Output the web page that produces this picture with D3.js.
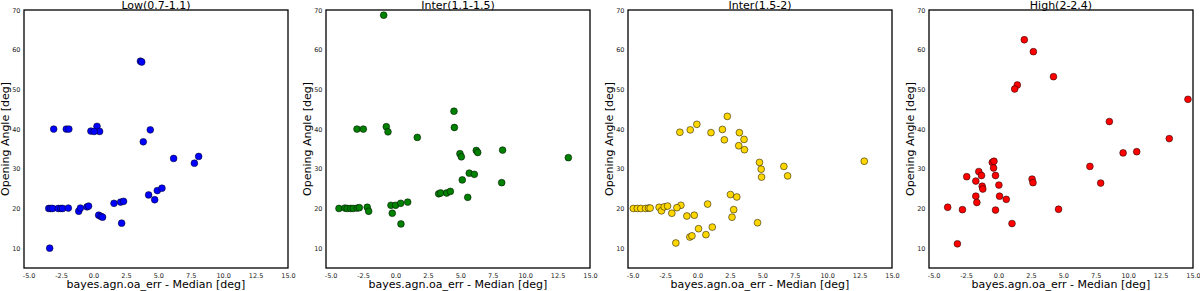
<!DOCTYPE html>
<html><head><meta charset="utf-8">
<script src="https://cdn.jsdelivr.net/npm/d3@7"></script>
<style>body{margin:0;background:#fff}svg{display:block}</style>
</head><body><svg id="c" width="1200" height="291"></svg>
<script>
const titles = ["Low(0.7-1.1)", "Inter(1.1-1.5)", "Inter(1.5-2)", "High(2-2.4)"];
const colors = ["#0000ff", "#008000", "#ffd700", "#ff0000"];
const xTicks = [-5, -2.5, 0, 2.5, 5, 7.5, 10, 12.5, 15];
const yTicks = [10, 20, 30, 40, 50, 60, 70];
const xLabel = "bayes.agn.oa_err - Median [deg]";
const yLabel = "Opening Angle [deg]";

const lowX = [-3.45,-3.3,-3.15,-2.72,-2.52,-2.38,-1.94,-1.14,-1.01,-0.5,-0.38,0.40,0.58,0.70,1.58,2.09,2.32,2.17,-3.38,-3.07,-2.1,-1.9,-0.2,0.27,0.47,0.05,4.38,3.84,3.62,3.72,6.18,7.78,8.11,4.25,4.92,5.28,4.72];
const lowY = [20,20,20,20,20,20,20.1,19.3,20.1,20.4,20.6,18.3,18.0,17.8,21.3,21.6,21.8,16.3,10.0,40,40,40,39.5,40.7,39.4,39.4,39.8,36.8,57.1,56.9,32.6,31.4,33.1,23.4,24.5,25.1,22.2];

const inter1X = [-0.91,4.51,4.54,-2.97,-2.48,-0.71,-0.58,1.68,4.97,5.08,6.23,6.34,8.26,13.33,5.69,6.08,5.15,8.19,3.33,3.48,3.95,4.23,5.57,-0.35,0.01,0.40,0.94,-0.25,0.42,-2.18,-2.07,-4.36,-3.90,-3.72,-3.46,-3.26,-2.95,-2.79];
const inter1Y = [68.7,44.5,40.4,40,40,40.6,39.3,37.9,33.8,33.0,34.6,34.1,34.7,32.8,28.9,28.6,27.2,26.5,23.7,23.9,23.9,24.3,22.8,20.8,20.8,21.3,21.6,18.8,16.1,20.3,19.3,20,20.1,20.0,20,20,20.1,20.2];

const inter2X = [2.30,-0.05,-0.56,-1.36,1.04,1.92,2.07,3.23,3.59,3.18,3.62,4.78,4.91,4.94,6.66,6.95,12.86,2.54,3.03,2.79,2.66,4.63,0.78,-1.28,-1.59,-1.98,-0.82,-0.25,0.08,1.14,0.65,-0.59,-0.43,-1.67,-4.95,-4.64,-4.38,-4.0,-3.78,-3.65,-2.96,-2.78,-2.57,-2.31];
const inter2Y = [43.2,41.2,39.8,39.2,39.1,39.9,37.3,39.1,37.4,35.8,34.8,31.6,29.9,27.9,30.6,28.2,31.9,23.5,22.9,19.7,17.8,16.4,21.1,20.8,20.2,18.8,18.1,18.3,14.9,15.3,13.4,12.8,13.1,11.3,20,20,20,20,20.1,20.1,20.3,19.4,20.4,20.6];

const highX = [1.99,2.69,4.24,1.45,1.25,14.61,8.55,13.17,9.61,10.66,7.05,7.88,2.59,2.66,4.63,-0.48,-0.35,-0.38,-1.52,-1.31,-2.45,-1.75,-0.23,0.03,-1.26,-1.21,-1.75,0.08,-1.67,0.6,-3.92,-2.78,-0.23,1.04,-3.17];
const highY = [62.5,59.5,53.2,51.1,50.1,47.5,41.9,37.6,34.0,34.3,30.6,26.4,27.4,26.5,19.8,31.6,31.9,30.2,29.3,28.3,28.0,26.9,28.3,25.9,25.6,24.9,23.1,23.1,21.5,22.3,20.3,19.7,19.6,16.2,11.1];

const seriesX = [lowX, inter1X, inter2X, highX];
const seriesY = [lowY, inter1Y, inter2Y, highY];

const svg = d3.select("#c");
const lefts = [24, 326, 628, 929];
const W = 264, plotTop = 10, plotBottom = 268;
const font = "DejaVu Sans, sans-serif";

lefts.forEach((L, i) => {
  const x = d3.scaleLinear().domain([-5.36, 15]).range([L, L + W]);
  const y = d3.scaleLinear().domain([5, 70]).range([plotBottom, plotTop]);
  const g = svg.append("g");
  const pts = seriesX[i].map((v, k) => [v, seriesY[i][k]]);
  g.selectAll("circle").data(pts).enter().append("circle")
    .attr("cx", d => x(d[0])).attr("cy", d => y(d[1])).attr("r", 3.4)
    .attr("fill", colors[i]).attr("stroke", "#000").attr("stroke-width", 0.5);
  g.append("rect").attr("x", L).attr("y", plotTop).attr("width", W).attr("height", plotBottom - plotTop)
    .attr("fill", "none").attr("stroke", "#000").attr("stroke-width", 1.3);
  const xa = g.append("g").attr("transform", `translate(0,${plotBottom})`)
    .call(d3.axisBottom(x).tickValues(xTicks).tickSize(0).tickPadding(5).tickFormat(d => d.toFixed(1)));
  const ya = g.append("g").attr("transform", `translate(${L},0)`)
    .call(d3.axisLeft(y).tickValues(yTicks).tickSize(0).tickPadding(3.5).tickFormat(d3.format("d")));
  [xa, ya].forEach(a => {
    a.select(".domain").remove();
    a.selectAll("text").attr("font-family", font).attr("font-size", 6.5).attr("fill", "#222");
  });
  g.append("text").attr("x", L + W / 2).attr("y", 8.5).attr("text-anchor", "middle")
    .attr("font-family", font).attr("font-size", 11).text(titles[i]);
  g.append("text").attr("x", L + W / 2).attr("y", 287.5).attr("text-anchor", "middle")
    .attr("font-family", font).attr("font-size", 11).text(xLabel);
  g.append("text").attr("transform", `translate(${L - 15.5},${(plotTop + plotBottom) / 2}) rotate(-90)`)
    .attr("text-anchor", "middle").attr("font-family", font).attr("font-size", 11).text(yLabel);
});
</script></body></html>
